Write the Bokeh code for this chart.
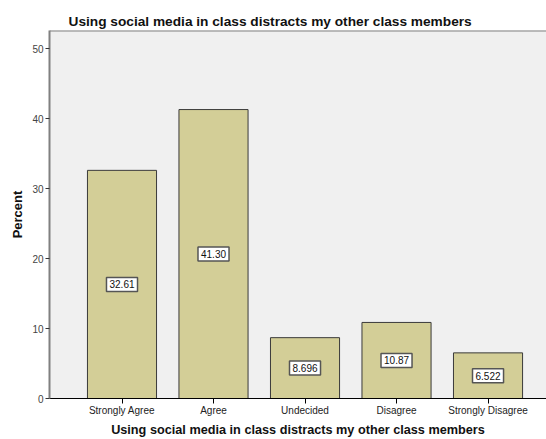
from bokeh.plotting import figure
from bokeh.models import (ColumnDataSource, Range1d, FixedTicker, Span, Title)
from bokeh.core.properties import value
from bokeh.embed import file_html
from bokeh.resources import INLINE

categories = ["Strongly Agree", "Agree", "Undecided", "Disagree", "Strongly Disagree"]
percents = [32.61, 41.30, 8.696, 10.87, 6.522]
value_labels = ["32.61", "41.30", "8.696", "10.87", "6.522"]
y_ticks = [0, 10, 20, 30, 40, 50]
title_text = "Using social media in class distracts my other class members"

xs = list(range(1, len(categories) + 1))
src = ColumnDataSource(dict(
    x=xs, top=percents, mid=[v / 2 for v in percents], lab=value_labels))

FONT = "Liberation Sans"

p = figure(width=546, height=439, output_backend="svg", toolbar_location=None,
           x_range=Range1d(0.2077, 5.639), y_range=Range1d(0, 52.6),
           min_border_left=49, min_border_right=0, min_border_top=30,
           min_border_bottom=41, title=None)

p.background_fill_color = "#f0f0f0"
p.border_fill_color = "white"
p.outline_line_color = None
p.xgrid.visible = False
p.ygrid.visible = False

t = Title(text=title_text, align="left", offset=19,
          text_font=FONT, text_font_size="13.7px", text_font_style="bold",
          text_color="#111111", standoff=4)
p.add_layout(t, "above")

p.vbar(x="x", top="top", width=0.755, source=src,
       fill_color="#d3ce97", line_color="#3a3a3a", line_width=1)

p.text(x="x", y="mid", text="lab", source=src,
       text_align="center", text_baseline="middle",
       text_font=value(FONT), text_font_size="10px", text_color="#111111",
       background_fill_color="white", border_line_color="#555555",
       border_line_width=1.5, padding=3)

top_line = Span(location=52.6, dimension="width", line_color="#808080", line_width=2)
p.add_layout(top_line)

# x axis
p.xaxis.ticker = FixedTicker(ticks=xs)
p.xaxis.major_label_overrides = {x: c for x, c in zip(xs, categories)}
p.xaxis.axis_line_color = "black"
p.xaxis.major_tick_line_color = "black"
p.xaxis.major_tick_out = 5
p.xaxis.major_tick_in = 0
p.xaxis.minor_tick_line_color = None
p.xaxis.major_label_text_font = FONT
p.xaxis.major_label_text_font_size = "10px"
p.xaxis.major_label_text_color = "#222222"
p.xaxis.major_label_standoff = 1
p.xaxis.axis_label = title_text
p.xaxis.axis_label_text_font = FONT
p.xaxis.axis_label_text_font_size = "12.7px"
p.xaxis.axis_label_text_font_style = "bold"
p.xaxis.axis_label_text_color = "#111111"
p.xaxis.axis_label_standoff = 4

# y axis
p.yaxis.ticker = FixedTicker(ticks=y_ticks)
p.yaxis.axis_line_color = "#808080"
p.yaxis.axis_line_width = 2
p.yaxis.major_tick_line_color = "#333333"
p.yaxis.major_tick_out = 4
p.yaxis.major_tick_in = 0
p.yaxis.minor_tick_line_color = None
p.yaxis.major_label_text_font = FONT
p.yaxis.major_label_text_font_size = "10px"
p.yaxis.major_label_text_color = "#444444"
p.yaxis.major_label_standoff = 2
p.yaxis.axis_label = "Percent"
p.yaxis.axis_label_text_font = FONT
p.yaxis.axis_label_text_font_size = "13px"
p.yaxis.axis_label_text_font_style = "bold"
p.yaxis.axis_label_text_color = "#111111"
p.yaxis.axis_label_standoff = 4

open("out.html", "w").write(file_html(p, INLINE))
